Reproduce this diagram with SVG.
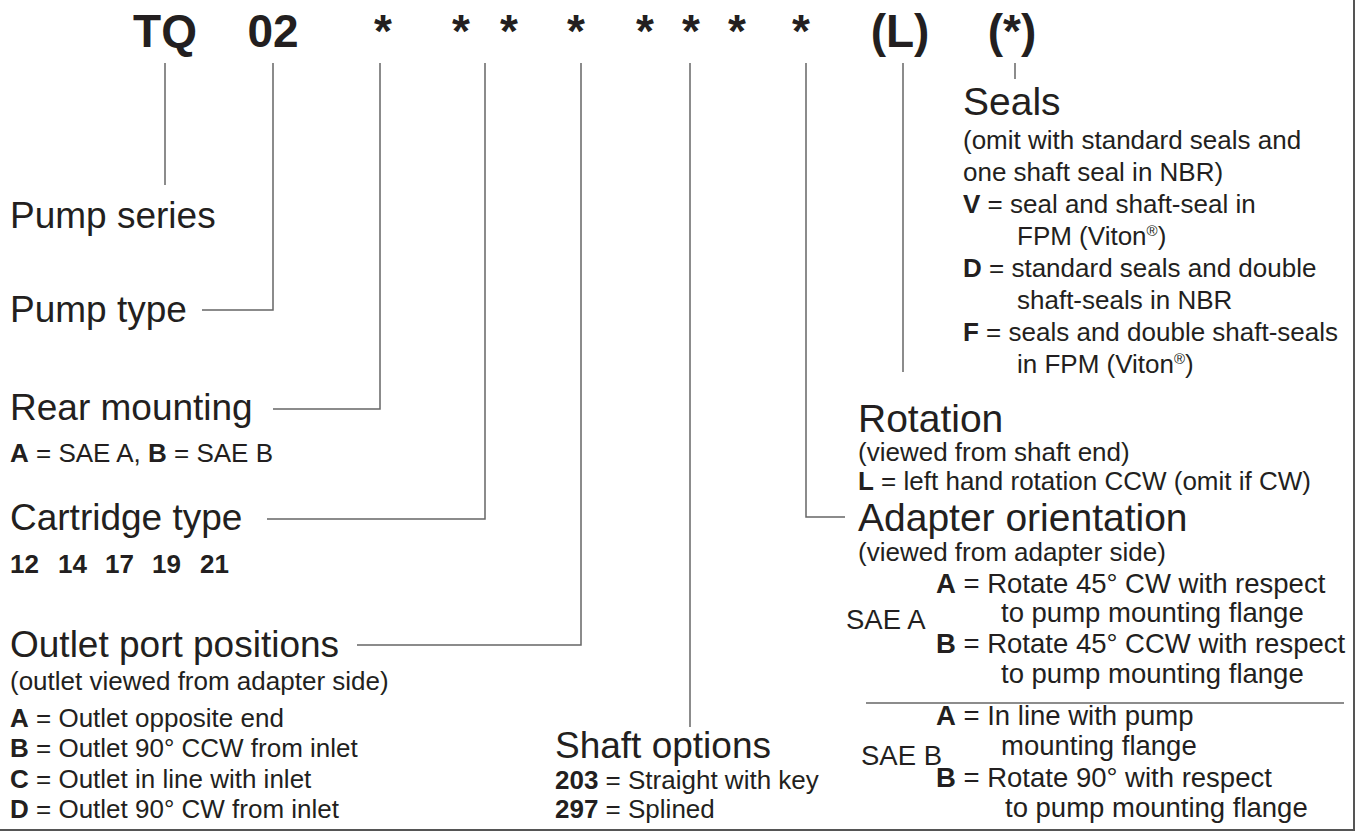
<svg xmlns="http://www.w3.org/2000/svg" width="1368" height="833" viewBox="0 0 1368 833">
<style>
text{font-family:"Liberation Sans",Arial,sans-serif;fill:#231f20}
.hd{font-size:46px;font-weight:bold;text-anchor:middle}
.h{font-size:37px}
.hr{font-size:39px}
.s{font-size:26px}
.t{font-size:27.5px}
.b{font-weight:bold}
.ln{fill:none;stroke:#666;stroke-width:1.5}
</style>
<rect width="1368" height="833" fill="#fff"/>
<g id="frame"><path class="ln" d="M1354 0V830H0" style="stroke:#555;stroke-width:2"/></g>
<g id="code">
<text class="hd" x="165" y="47">TQ</text>
<text class="hd" x="273" y="47">02</text>
<text class="hd" x="383" y="47">*</text>
<text class="hd" x="461" y="47">*</text>
<text class="hd" x="509" y="47">*</text>
<text class="hd" x="576" y="47">*</text>
<text class="hd" x="645" y="47">*</text>
<text class="hd" x="691" y="47">*</text>
<text class="hd" x="737" y="47">*</text>
<text class="hd" x="801" y="47">*</text>
<text class="hd" x="900" y="47">(L)</text>
<text class="hd" x="1012" y="47">(*)</text>
</g>
<g id="connectors">
<path class="ln" d="M165 63V185"/>
<path class="ln" d="M273 63V310H202"/>
<path class="ln" d="M380 63V409H273"/>
<path class="ln" d="M485 63V519H267"/>
<path class="ln" d="M581 63V645H357"/>
<path class="ln" d="M690 63V727"/>
<path class="ln" d="M806 63V517H845"/>
<path class="ln" d="M903 63V372"/>
<path class="ln" d="M1015 63V79"/>
<path class="ln" d="M866 703H1344"/>
</g>
<g id="pump-series"><text class="h" x="10" y="228">Pump series</text></g>
<g id="pump-type"><text class="h" x="10" y="322">Pump type</text></g>
<g id="rear-mounting">
<text class="h" x="10" y="420">Rear mounting</text>
<text class="s" x="10" y="462" font-size="25"><tspan class="b">A</tspan> = SAE A, <tspan class="b">B</tspan> = SAE B</text>
</g>
<g id="cartridge-type">
<text class="h" x="10" y="530">Cartridge type</text>
<text class="s b" y="573"><tspan x="10">12</tspan><tspan x="58">14</tspan><tspan x="105">17</tspan><tspan x="152">19</tspan><tspan x="200">21</tspan></text>
</g>
<g id="outlet-port">
<text class="h" x="10" y="657">Outlet port positions</text>
<text class="s" x="10" y="690">(outlet viewed from adapter side)</text>
<text class="s" x="10" y="727"><tspan class="b">A</tspan> = Outlet opposite end</text>
<text class="s" x="10" y="757"><tspan class="b">B</tspan> = Outlet 90° CCW from inlet</text>
<text class="s" x="10" y="788"><tspan class="b">C</tspan> = Outlet in line with inlet</text>
<text class="s" x="10" y="818"><tspan class="b">D</tspan> = Outlet 90° CW from inlet</text>
</g>
<g id="shaft-options">
<text class="h" x="555" y="758">Shaft options</text>
<text class="s" x="555" y="789"><tspan class="b">203</tspan> = Straight with key</text>
<text class="s" x="555" y="818"><tspan class="b">297</tspan> = Splined</text>
</g>
<g id="seals">
<text class="hr" x="963" y="115">Seals</text>
<text class="s" x="963" y="149">(omit with standard seals and</text>
<text class="s" x="963" y="181">one shaft seal in NBR)</text>
<text class="s" x="963" y="213"><tspan class="b">V</tspan> = seal and shaft-seal in</text>
<text class="s" x="1017" y="245">FPM (Viton<tspan font-size="15" dy="-9">®</tspan><tspan dy="9">)</tspan></text>
<text class="s" x="963" y="277"><tspan class="b">D</tspan> = standard seals and double</text>
<text class="s" x="1017" y="309">shaft-seals in NBR</text>
<text class="s" x="963" y="341"><tspan class="b">F</tspan> = seals and double shaft-seals</text>
<text class="s" x="1017" y="373">in FPM (Viton<tspan font-size="15" dy="-9">®</tspan><tspan dy="9">)</tspan></text>
</g>
<g id="rotation">
<text class="hr" x="858" y="432">Rotation</text>
<text class="s" x="858" y="461">(viewed from shaft end)</text>
<text class="s" x="858" y="490"><tspan class="b">L</tspan> = left hand rotation CCW (omit if CW)</text>
</g>
<g id="adapter-orientation">
<text class="hr" x="858" y="531" font-size="38">Adapter orientation</text>
<text class="s" x="858" y="561">(viewed from adapter side)</text>
<text class="t" x="846" y="629">SAE A</text>
<text class="t" x="936" y="593"><tspan class="b">A</tspan> = Rotate 45° CW with respect</text>
<text class="t" x="1001" y="622">to pump mounting flange</text>
<text class="t" x="936" y="653"><tspan class="b">B</tspan> = Rotate 45° CCW with respect</text>
<text class="t" x="1001" y="683">to pump mounting flange</text>
<text class="t" x="861" y="765">SAE B</text>
<text class="t" x="936" y="725"><tspan class="b">A</tspan> = In line with pump</text>
<text class="t" x="1001" y="755">mounting flange</text>
<text class="t" x="936" y="787"><tspan class="b">B</tspan> = Rotate 90° with respect</text>
<text class="t" x="1005" y="817">to pump mounting flange</text>
</g>
</svg>
